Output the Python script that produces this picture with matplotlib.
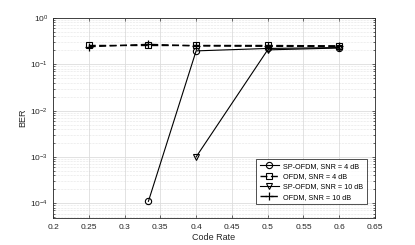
import numpy as np
import matplotlib
matplotlib.use('Agg')
import matplotlib.pyplot as plt

# code rate / BER values
rate_sp4 = [1/3, 0.4, 0.5, 0.6]
ber_sp4 = [1.1e-4, 0.195, 0.22, 0.23]

rate_ofdm4 = [0.25, 1/3, 0.4, 0.5, 0.6]
ber_ofdm4 = [0.255, 0.255, 0.255, 0.255, 0.25]

rate_sp10 = [0.4, 0.5, 0.6]
ber_sp10 = [1.0e-3, 0.205, 0.225]

rate_ofdm10 = [0.25, 1/3, 0.4, 0.5, 0.6]
ber_ofdm10 = [0.24, 0.27, 0.25, 0.245, 0.245]

labels = ['SP-OFDM, SNR = 4 dB', 'OFDM, SNR = 4 dB',
          'SP-OFDM, SNR = 10 dB', 'OFDM, SNR = 10 dB']

plt.rcParams['font.family'] = ['Liberation Sans', 'DejaVu Sans']

fig = plt.figure(figsize=(4.15, 2.45), dpi=100)
ax = fig.add_axes([53/415, 1 - 218/245, 322/415, 200/245])

ms = 4.5
ax.semilogy(rate_sp4, ber_sp4, '-', color='k', lw=0.8, marker='o', ms=ms,
            mfc='none', mew=0.8, label=labels[0])
ax.semilogy(rate_ofdm4, ber_ofdm4, '--', color='k', lw=1.0, marker='s', ms=ms,
            mfc='none', mew=0.8, dashes=(5, 2.5), label=labels[1])
ax.semilogy(rate_sp10, ber_sp10, '-', color='k', lw=0.8, marker='v', ms=ms,
            mfc='none', mew=0.8, label=labels[2])
ax.semilogy(rate_ofdm10, ber_ofdm10, '--', color='k', lw=1.0, marker='+', ms=ms + 1.5,
            mew=0.9, dashes=(5, 2.5), label=labels[3])

ax.set_xlim(0.2, 0.65)
ax.set_ylim(4.8e-5, 1)
ax.set_xticks(np.arange(0.2, 0.651, 0.05))
ax.set_xticklabels(['0.2', '0.25', '0.3', '0.35', '0.4', '0.45', '0.5', '0.55', '0.6', '0.65'])
ax.set_yticks([1e-4, 1e-3, 1e-2, 1e-1, 1])

ax.grid(True, which='major', color='#dddddd', lw=0.6, ls='-')
ax.grid(True, which='minor', color='#cccccc', lw=0.4, ls=':')
ax.set_axisbelow(True)

ax.tick_params(which='both', direction='in', top=True, right=True,
               labelsize=6, colors='#262626', width=0.5)
ax.tick_params(which='major', length=2.5)
ax.tick_params(which='minor', length=1.5)
ax.tick_params(axis='x', pad=4)
for s in ax.spines.values():
    s.set_linewidth(0.6)
    s.set_color('#262626')

ax.set_xlabel('Code Rate', fontsize=6.5, color='#262626', labelpad=2)
ax.set_ylabel('BER', fontsize=6.5, color='#262626', labelpad=2)

leg = ax.legend(loc='lower right', fontsize=5.2, frameon=True, fancybox=False,
                edgecolor='k', handlelength=2.7, handletextpad=0.5,
                borderpad=0.5, labelspacing=0.45,
                bbox_to_anchor=(0.985, 0.05))
leg.get_frame().set_linewidth(0.6)

fig.savefig('out.png', dpi=100)
